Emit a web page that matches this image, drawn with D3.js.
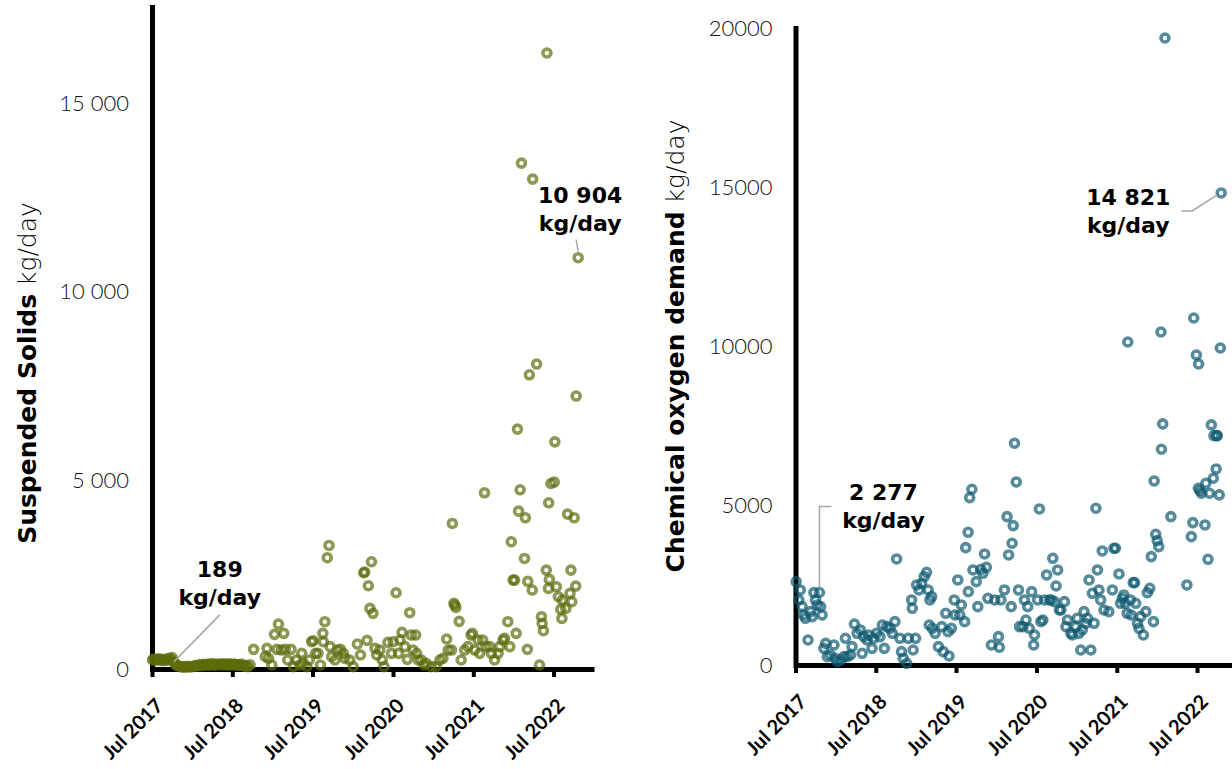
<!DOCTYPE html>
<html>
<head>
<meta charset="utf-8">
<script src="https://cdn.jsdelivr.net/npm/d3@7"></script>
<style>
  body { margin: 0; background: #fff; }
  svg { display: block; font-family: "Century Gothic", "Lato", sans-serif; }
</style>
</head>
<body>
<script>
// ---- Data -------------------------------------------------------------
// Suspended solids load, kg/day
const suspendedSolids = [
  ["2017-07-03",240],["2017-07-10",262],["2017-07-17",228],["2017-07-24",250],["2017-07-31",272],
  ["2017-08-07",232],["2017-08-14",255],["2017-08-21",220],["2017-08-28",242],["2017-09-04",262],
  ["2017-09-11",235],["2017-09-18",285],["2017-09-25",250],["2017-10-01",305],["2017-10-08",189],
  ["2017-10-16",120],["2017-10-23",92],["2017-10-30",80],["2017-11-06",68],["2017-11-13",58],
  ["2017-11-20",52],["2017-11-27",66],["2017-12-04",48],["2017-12-11",72],["2017-12-18",60],
  ["2017-12-27",55],["2018-01-08",76],["2018-01-15",92],["2018-01-22",80],["2018-01-29",102],
  ["2018-02-05",112],["2018-02-12",90],["2018-02-19",124],["2018-02-26",100],["2018-03-05",112],
  ["2018-03-12",132],["2018-03-19",96],["2018-03-26",122],["2018-04-02",142],["2018-04-09",110],
  ["2018-04-16",102],["2018-04-23",132],["2018-04-30",120],["2018-05-07",116],["2018-05-14",140],
  ["2018-05-21",110],["2018-05-28",130],["2018-06-04",122],["2018-06-11",100],["2018-06-18",136],
  ["2018-06-25",120],["2018-07-02",110],["2018-07-09",132],["2018-07-16",120],["2018-07-23",96],
  ["2018-07-30",112],["2018-08-06",100],["2018-08-13",130],["2018-08-20",86],["2018-08-27",76],
  ["2018-09-03",92],["2018-09-10",60],["2018-09-20",110],
  ["2018-10-06",521],["2018-11-28",327],["2018-12-06",547],["2018-12-13",283],["2018-12-28",106],
  ["2019-01-09",918],["2019-01-20",521],["2019-01-27",1192],["2019-02-09",503],["2019-02-20",945],
  ["2019-02-27",521],["2019-03-10",238],["2019-03-25",521],["2019-04-05",62],["2019-04-19",238],
  ["2019-05-04",106],["2019-05-13",415],["2019-05-20",150],["2019-06-05",62],["2019-06-16",238],
  ["2019-06-27",724],["2019-07-04",750],["2019-07-15",415],["2019-07-26",415],["2019-08-06",106],
  ["2019-08-17",945],["2019-08-19",724],["2019-08-26",1254],["2019-09-06",2950],["2019-09-14",3276],
  ["2019-09-19",592],["2019-09-26",327],["2019-10-11",238],["2019-10-22",503],["2019-11-05",521],
  ["2019-11-18",415],["2019-11-25",283],["2019-12-17",238],["2020-01-02",62],["2020-01-21",662],
  ["2020-02-04",371],["2020-02-19",2552],["2020-02-23",2570],["2020-03-05",759],["2020-03-11",2207],
  ["2020-03-18",1607],["2020-03-25",2843],["2020-04-01",1475],["2020-04-10",547],["2020-04-18",371],
  ["2020-05-02",503],["2020-05-13",238],["2020-05-21",62],["2020-06-08",706],["2020-06-24",415],
  ["2020-07-02",724],["2020-07-15",2022],["2020-07-26",415],["2020-08-02",768],["2020-08-11",971],
  ["2020-08-24",592],["2020-09-04",256],["2020-09-15",1492],["2020-09-22",900],["2020-09-30",503],
  ["2020-10-12",900],["2020-10-16",415],["2020-10-23",238],["2020-11-07",238],["2020-11-19",106],
  ["2020-11-29",150],["2020-12-22",62],["2021-01-13",62],["2021-01-30",238],["2021-02-13",283],
  ["2021-03-02",795],["2021-03-09",503],["2021-03-24",503],["2021-03-28",3859],["2021-04-04",1739],
  ["2021-04-08",1695],["2021-04-13",1633],["2021-04-28",1263],["2021-05-07",238],["2021-05-23",503],
  ["2021-06-07",592],["2021-06-21",900],
  ["2021-06-27",945],["2021-07-08",503],["2021-07-23",768],["2021-07-30",415],["2021-08-13",768],
  ["2021-08-21",4671],["2021-08-28",592],["2021-09-14",592],["2021-09-21",415],["2021-10-06",238],
  ["2021-10-22",415],["2021-10-29",592],["2021-11-13",768],["2021-11-20",812],["2021-12-05",1254],
  ["2021-12-14",592],["2021-12-21",3373],["2021-12-29",2357],["2022-01-05",2357],["2022-01-12",945],
  ["2022-01-18",6358],["2022-01-23",4185],["2022-01-30",4751],["2022-02-05",13411],["2022-02-19",2931],
  ["2022-02-23",4009],["2022-03-04",521],["2022-03-06",2322],["2022-03-13",7800],["2022-03-26",2093],
  ["2022-03-28",12987],["2022-04-15",8084],["2022-04-28",106],["2022-05-07",1386],["2022-05-10",1210],
  ["2022-05-16",1015],["2022-05-29",2622],["2022-06-01",16330],["2022-06-08",2137],["2022-06-09",4406],
  ["2022-06-12",2375],["2022-06-19",4918],["2022-07-04",4954],["2022-07-07",6022],["2022-07-14",2181],
  ["2022-07-23",1916],["2022-08-03",1580],["2022-08-08",1342],["2022-08-10",1828],["2022-08-26",1607],
  ["2022-09-03",4106],["2022-09-14",2004],["2022-09-18",2622],["2022-09-22",1783],["2022-10-03",4009],
  ["2022-10-10",2198],["2022-10-12",7236],["2022-10-21",10904]
];

// Chemical oxygen demand load, kg/day
const oxygenDemand = [
  ["2017-07-04",2618],["2017-07-16",2042],["2017-07-23",2356],["2017-07-31",1832],["2017-08-07",1570],
  ["2017-08-15",1466],["2017-08-27",785],["2017-09-08",1675],["2017-09-15",1518],["2017-09-23",2272],
  ["2017-09-30",2042],["2017-10-08",1885],["2017-10-18",2277],["2017-10-23",1832],["2017-10-30",1570],
  ["2017-11-07",523],["2017-11-15",680],["2017-11-23",262],["2017-12-07",314],["2017-12-23",628],
  ["2017-12-28",209],["2018-01-07",105],["2018-01-23",157],["2018-02-06",262],["2018-02-13",838],
  ["2018-02-21",262],["2018-03-08",314],["2018-03-15",576],["2018-03-26",1288],["2018-04-07",995],
  ["2018-04-22",1100],["2018-04-30",366],["2018-05-08",890],["2018-05-22",785],["2018-05-30",942],
  ["2018-06-14",523],["2018-06-21",838],["2018-07-05",995],["2018-07-20",890],["2018-07-31",1256],
  ["2018-08-09",523],["2018-08-20",1204],["2018-09-04",1152],["2018-09-14",995],["2018-09-26",1361],
  ["2018-10-04",3329],["2018-10-19",838],["2018-10-26",419],["2018-11-03",209],["2018-11-19",52],
  ["2018-11-26",838],["2018-12-11",2042],["2018-12-14",1780],["2018-12-18",471],["2018-12-29",838],
  ["2019-01-03",2513],["2019-01-14",2356],["2019-01-26",2565],["2019-02-06",2775],["2019-02-17",2911],
  ["2019-02-24",2356],["2019-03-01",1256],["2019-03-04",2042],["2019-03-12",2146],["2019-03-15",1152],
  ["2019-03-28",995],["2019-04-12",576],["2019-04-27",1204],["2019-05-04",419],["2019-05-15",1623],
  ["2019-05-26",1047],["2019-05-30",283],["2019-06-10",1152],["2019-06-23",2042],["2019-06-26",1570],
  ["2019-07-09",2670],["2019-07-18",1570],["2019-07-25",1885],["2019-08-09",1361],["2019-08-14",3685],
  ["2019-08-25",4167],["2019-08-26",2303],["2019-09-01",5256],["2019-09-11",5518],["2019-09-16",2984],
  ["2019-10-01",2618],["2019-10-08",1832],["2019-10-23",3005],["2019-10-31",2879],["2019-11-08",3487],
  ["2019-11-16",3068],["2019-11-23",2094],["2019-12-09",628],["2019-12-24",2042],["2020-01-10",890],
  ["2020-01-14",555],["2020-01-21",2042],["2020-02-06",2356],["2020-02-18",4659],["2020-02-25",3455],
  ["2020-03-08",1832],["2020-03-12",3822],["2020-03-17",4376],["2020-03-23",6962],["2020-03-31",5748],
  ["2020-04-10",2356],["2020-04-15",1204],["2020-04-30",1204],["2020-05-07",2042],["2020-05-14",1413],
  ["2020-05-22",1832],["2020-05-29",1152],["2020-06-09",2303],["2020-06-18",628],["2020-06-22",942],
  ["2020-07-06",2042],["2020-07-14",4900],["2020-07-21",1361],["2020-07-30",1413],["2020-08-07",2042],
  ["2020-08-16",2827],["2020-08-29",2042],["2020-09-05",2042],["2020-09-13",3350],["2020-09-20",1989],
  ["2020-09-28",2481],["2020-10-05",2984],["2020-10-13",1727],["2020-10-20",1727],["2020-11-05",1989],
  ["2020-11-12",1204],["2020-11-19",1413],["2020-12-04",995],["2020-12-11",942],["2020-12-26",1204],
  ["2021-01-02",1466],["2021-01-10",995],["2021-01-18",471],["2021-01-25",1100],["2021-02-02",1675],
  ["2021-02-10",1309],["2021-02-18",1466],["2021-02-25",2670],["2021-03-05",471],["2021-03-12",2251],
  ["2021-03-20",1309],["2021-03-28",4921],["2021-04-04",2984],["2021-04-11",2356],["2021-04-19",2042],
  ["2021-04-26",3581],["2021-05-04",1727],["2021-05-26",1675],["2021-06-11",2356],["2021-06-18",3665],
  ["2021-06-25",3665],
  ["2021-07-11",2858],["2021-07-18",1937],["2021-07-26",2094],["2021-08-02",2199],["2021-08-09",1937],
  ["2021-08-17",1623],["2021-08-20",10141],["2021-09-01",2042],["2021-09-04",1570],["2021-09-14",2586],
  ["2021-09-20",2586],["2021-09-25",1937],["2021-10-03",1309],["2021-10-10",1152],["2021-10-17",1518],
  ["2021-10-30",942],["2021-11-10",1675],["2021-11-17",2272],["2021-11-28",2408],["2021-12-05",3403],
  ["2021-12-15",1361],["2021-12-18",5779],["2021-12-25",4104],["2022-01-01",3905],["2022-01-08",3717],
  ["2022-01-18",10455],["2022-01-20",6774],["2022-01-26",7570],["2022-02-05",19686],["2022-03-04",4659],
  ["2022-05-16",2513],["2022-06-05",4031],["2022-06-12",4471],["2022-06-16",10895],["2022-06-28",9733],
  ["2022-07-07",5549],["2022-07-08",9450],["2022-07-14",5476],["2022-07-21",5392],["2022-08-06",4397],
  ["2022-08-10",5706],["2022-08-20",3319],["2022-08-27",5392],["2022-09-04",7538],["2022-09-13",5863],
  ["2022-09-16",7203],["2022-09-26",6156],["2022-09-28",7203],["2022-10-01",7203],["2022-10-10",5340],
  ["2022-10-15",9953],["2022-10-19",14821]
];

// Axis ticks
const xTickDates = ["2017-07-01","2018-07-01","2019-07-01","2020-07-01","2021-07-01","2022-07-01"];
const xTickLabels = ["Jul 2017","Jul 2018","Jul 2019","Jul 2020","Jul 2021","Jul 2022"];
const ssTickValues = [0, 5000, 10000, 15000];
const ssTickLabels = ["0", "5 000", "10 000", "15 000"];
const codTickValues = [0, 5000, 10000, 15000, 20000];
const codTickLabels = ["0", "5000", "10000", "15000", "20000"];

// Annotated readings
const ssCallouts = [["2017-10-08", 189], ["2022-10-21", 10904]];
const codCallouts = [["2017-10-18", 2277], ["2022-10-19", 14821]];

// ---- Drawing ----------------------------------------------------------
const parse = d3.timeParse("%Y-%m-%d");
const fmtLoad = v => d3.format(",")(v).replace(/,/g, " ");
const wideFont = '"Century Gothic", "DejaVu Sans", sans-serif';

const svg = d3.select("body").append("svg")
  .attr("width", 1232).attr("height", 769);

function drawPanel(cfg) {
  const g = svg.append("g");
  const x = d3.scaleTime()
    .domain([parse("2017-07-01"), parse("2023-01-01")])
    .range([cfg.left, cfg.left + 442]);
  const y = d3.scaleLinear().domain([0, cfg.yMax]).range([cfg.base, cfg.top]);

  // y axis
  const yAxis = g.append("g")
    .attr("transform", `translate(${cfg.left},0)`)
    .call(d3.axisLeft(y).tickValues(cfg.yTicks)
      .tickFormat((d, i) => cfg.yLabels[i]).tickSize(0).tickPadding(23));
  yAxis.select(".domain").attr("stroke", "#000").attr("stroke-width", 5)
    .attr("stroke-linecap", "square");
  yAxis.selectAll("text").attr("font-size", 22).attr("font-weight", 300)
    .attr("font-family", '"Century Gothic", "Lato", sans-serif')
    .attr("fill", "#111");

  // x axis
  const xAxis = g.append("g")
    .attr("transform", `translate(0,${cfg.base})`)
    .call(d3.axisBottom(x).tickValues(xTickDates.map(parse))
      .tickFormat((d, i) => xTickLabels[i]).tickSizeInner(8).tickSizeOuter(0));
  xAxis.select(".domain").attr("stroke", "#000").attr("stroke-width", 5);
  xAxis.selectAll(".tick line").attr("stroke", "#000").attr("stroke-width", 4);
  xAxis.selectAll("text")
    .attr("x", 0).attr("y", 0).attr("dy", 0)
    .attr("text-anchor", "end")
    .attr("transform", "translate(12,38) rotate(-45)")
    .attr("font-family", '"Century Gothic", "Lato", sans-serif')
    .attr("font-size", 20).attr("font-weight", 700).attr("fill", "#000");

  // axis title
  const title = g.append("text")
    .attr("transform", `translate(${cfg.titleX},${cfg.titleY}) rotate(-90)`)
    .attr("text-anchor", "middle").attr("font-size", 25)
    .attr("font-family", wideFont).attr("fill", "#000");
  title.append("tspan").attr("font-weight", 700).text(cfg.titleBold);
  title.append("tspan").attr("font-weight", 200).text(" kg/day");

  // observations
  g.append("g").selectAll("circle").data(cfg.series).join("circle")
    .attr("cx", d => x(parse(d[0])))
    .attr("cy", d => y(d[1]))
    .attr("r", 4)
    .attr("fill", "none")
    .attr("stroke", cfg.color)
    .attr("stroke-opacity", 0.7)
    .attr("stroke-width", 3.6);

  // callouts
  cfg.callouts.forEach((c, i) => {
    const px = x(parse(c[0])), py = y(c[1]);
    const L = cfg.calloutLayout[i];
    g.append("path")
      .attr("d", L.leader(px, py))
      .attr("fill", "none").attr("stroke", "#a6a6a6").attr("stroke-width", 1.5);
    const t = g.append("text").attr("text-anchor", "middle")
      .attr("font-family", wideFont)
      .attr("font-size", 22).attr("font-weight", 700).attr("fill", "#000");
    t.append("tspan").attr("x", px + L.dx).attr("y", py + L.dy).text(fmtLoad(c[1]));
    t.append("tspan").attr("x", px + L.dx).attr("y", py + L.dy + 28).text("kg/day");
  });
}

drawPanel({
  series: suspendedSolids, color: "#5e6b0c",
  left: 152, base: 669, top: 7, yMax: 17550,
  yTicks: ssTickValues, yLabels: ssTickLabels,
  titleBold: "Suspended Solids", titleX: 36, titleY: 373,
  callouts: ssCallouts,
  calloutLayout: [
    { dx: 46, dy: -85, leader: (px, py) => `M${px + 46},${py - 47}L${px},${py}` },
    { dx: 2, dy: -55, leader: (px, py) => `M${px - 2},${py - 18}L${px},${py - 6}` }
  ]
});

drawPanel({
  series: oxygenDemand, color: "#0e5a70",
  left: 795.5, base: 665, top: 28, yMax: 20000,
  yTicks: codTickValues, yLabels: codTickLabels,
  titleBold: "Chemical oxygen demand", titleX: 684, titleY: 346,
  callouts: codCallouts,
  calloutLayout: [
    { dx: 64, dy: -92, leader: (px, py) => `M${px + 12},${py - 86}H${px}V${py - 5}` },
    { dx: -93, dy: 12, leader: (px, py) => `M${px - 40},${py + 18}H${px - 29}L${px - 4},${py + 2}` }
  ]
});
</script>
</body>
</html>
